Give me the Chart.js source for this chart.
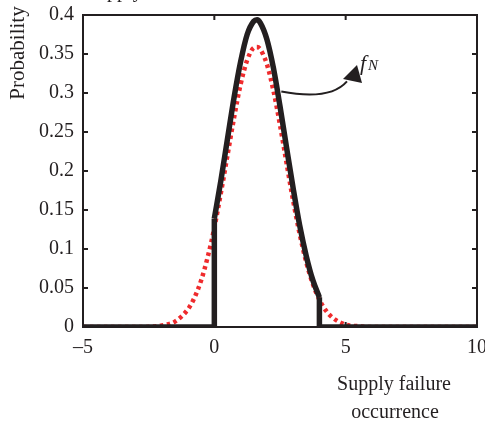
<!DOCTYPE html>
<html>
<head>
<meta charset="utf-8">
<script src="https://cdn.jsdelivr.net/npm/chart.js@4.4.1/dist/chart.umd.min.js"></script>
<style>
  html, body { margin: 0; padding: 0; background: #fff; }
  #wrap { width: 485px; height: 426px; position: relative; }
</style>
</head>
<body>
<div id="wrap"><canvas id="chart" width="485" height="426"></canvas></div>
<script>
// values
const normal_x = [-5, -3, -2, -1.5, -1, -0.75, -0.5, -0.25, 0, 0.25, 0.5, 0.75, 1, 1.25, 1.5, 1.625, 1.75, 2, 2.25, 2.5, 2.75, 3, 3.25, 3.5, 3.75, 4, 4.25, 4.5, 5, 5.5, 6, 10];
const normal_y = [0, 0, 0.002, 0.007, 0.023, 0.038, 0.060, 0.090, 0.127, 0.172, 0.220, 0.268, 0.311, 0.342, 0.358, 0.359, 0.356, 0.337, 0.303, 0.259, 0.210, 0.162, 0.119, 0.083, 0.055, 0.035, 0.021, 0.012, 0.003, 0.001, 0, 0];

const trunc_x = [0, 0.25, 0.5, 0.75, 1, 1.25, 1.5, 1.625, 1.75, 2, 2.25, 2.5, 2.75, 3, 3.25, 3.5, 3.75, 4];
const trunc_y = [0.139, 0.188, 0.241, 0.294, 0.340, 0.375, 0.392, 0.394, 0.390, 0.369, 0.332, 0.283, 0.230, 0.178, 0.130, 0.091, 0.060, 0.038];

// the flat parts and the two jumps of the truncated pdf
const edge_x = [-5, 0, 0, 2, 4, 4, 10];
const edge_y = [0, 0, 0.139, null, 0.038, 0, 0];

const x_ticks = [-5, 0, 5, 10];
const y_ticks = [0, 0.05, 0.1, 0.15, 0.2, 0.25, 0.3, 0.35, 0.4];
const y_tick_labels = ["0", "0.05", "0.1", "0.15", "0.2", "0.25", "0.3", "0.35", "0.4"];

const ink = "#231f20";
const serif = "'Liberation Serif', 'DejaVu Serif', serif";

function toPoints(xs, ys){
    let pts = [];
    for(let i = 0; i < xs.length; i++){
        pts.push({x: xs[i], y: ys[i]});
    }
    return pts;
}

// frame, inward ticks, axis titles and the f_N note
const decorPlugin = {
    id: "decor",
    afterDraw(chart){
        const ctx = chart.ctx;
        const a = chart.chartArea;
        const xs = chart.scales.x;
        const ys = chart.scales.y;
        ctx.save();
        ctx.strokeStyle = ink;
        ctx.lineWidth = 2;
        ctx.strokeRect(a.left, a.top, a.right - a.left, a.bottom - a.top);

        ctx.beginPath();
        for(let v of x_ticks){
            const px = xs.getPixelForValue(v);
            ctx.moveTo(px, a.bottom); ctx.lineTo(px, a.bottom - 5);
            ctx.moveTo(px, a.top); ctx.lineTo(px, a.top + 5);
        }
        for(let v of y_ticks){
            const py = ys.getPixelForValue(v);
            ctx.moveTo(a.left, py); ctx.lineTo(a.left + 5, py);
            ctx.moveTo(a.right, py); ctx.lineTo(a.right - 5, py);
        }
        ctx.stroke();

        ctx.fillStyle = ink;
        ctx.font = "20px " + serif;
        ctx.textAlign = "center";
        ctx.textBaseline = "alphabetic";
        ctx.fillText("Supply failure", 394, 390);
        ctx.fillText("occurrence", 395, 418);
        ctx.textAlign = "left";
        ctx.fillText("Supply failure", 86, -3);
        ctx.textAlign = "center";

        ctx.save();
        ctx.font = "21px " + serif;
        ctx.translate(24, 53);
        ctx.rotate(-Math.PI / 2);
        ctx.fillText("Probability", 0, 0);
        ctx.restore();

        // arrow from the black curve to the label
        const sx = xs.getPixelForValue(2.55), sy = ys.getPixelForValue(0.302);
        const ex = xs.getPixelForValue(5.05), ey = ys.getPixelForValue(0.315);
        ctx.lineWidth = 2;
        ctx.beginPath();
        ctx.moveTo(sx, sy);
        ctx.quadraticCurveTo(xs.getPixelForValue(4.4), ys.getPixelForValue(0.29), ex, ey);
        ctx.stroke();
        ctx.beginPath();
        ctx.moveTo(357, 65);
        ctx.lineTo(343, 79);
        ctx.lineTo(362, 83);
        ctx.closePath();
        ctx.fill();

        ctx.textAlign = "left";
        ctx.font = "italic 22px " + serif;
        ctx.fillText("f", 360, 70);
        ctx.font = "italic 15px " + serif;
        ctx.fillText("N", 368, 70);
        ctx.restore();
    }
};

new Chart(document.getElementById("chart").getContext("2d"), {
    type: "line",
    data: {
        datasets: [
            {
                label: "normal",
                data: toPoints(normal_x, normal_y),
                borderColor: "#ef2b2d",
                borderWidth: 4.5,
                borderDash: [3.5, 3.5],
                cubicInterpolationMode: "monotone",
                pointRadius: 0,
                fill: false,
                order: 2
            },
            {
                label: "truncated",
                data: toPoints(trunc_x, trunc_y),
                borderColor: ink,
                borderWidth: 5.5,
                cubicInterpolationMode: "monotone",
                pointRadius: 0,
                fill: false,
                order: 1
            },
            {
                label: "edges",
                data: toPoints(edge_x, edge_y),
                borderColor: ink,
                borderWidth: 5.5,
                tension: 0,
                spanGaps: false,
                pointRadius: 0,
                fill: false,
                order: 1
            }
        ]
    },
    plugins: [decorPlugin],
    options: {
        responsive: false,
        animation: false,
        layout: { padding: { top: 15, right: 8, left: 0, bottom: 0 } },
        plugins: {
            legend: { display: false },
            tooltip: { enabled: false }
        },
        scales: {
            x: {
                type: "linear",
                min: -5,
                max: 10,
                afterFit(scale){
                    scale.height = 99;
                    scale.paddingLeft = 0;
                    scale.paddingRight = 0;
                },
                afterBuildTicks(scale){ scale.ticks = x_ticks.map(v => ({value: v})); },
                grid: { display: false, drawTicks: false },
                border: { display: false },
                ticks: {
                    padding: 9,
                    color: ink,
                    font: { family: serif, size: 20 },
                    callback: v => String(v).replace("-", "\u2013")
                }
            },
            y: {
                min: 0,
                max: 0.4,
                afterFit(scale){
                    scale.width = 83;
                    scale.paddingTop = 0;
                    scale.paddingBottom = 0;
                },
                afterBuildTicks(scale){ scale.ticks = y_ticks.map(v => ({value: v})); },
                grid: { display: false, drawTicks: false },
                border: { display: false },
                ticks: {
                    padding: 9,
                    color: ink,
                    font: { family: serif, size: 20 },
                    callback: (v, i) => y_tick_labels[i]
                }
            }
        }
    }
});
</script>
</body>
</html>
